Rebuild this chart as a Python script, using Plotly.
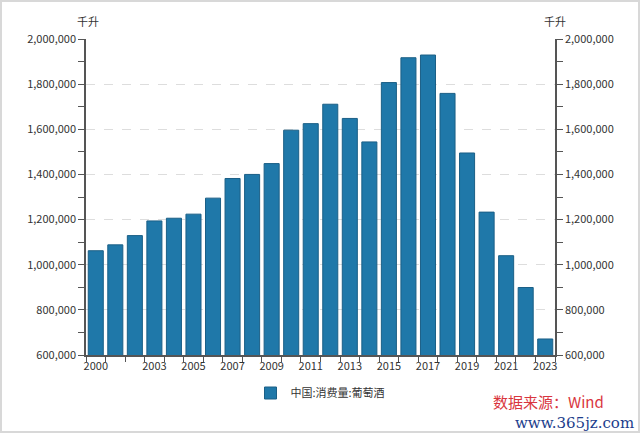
import plotly.graph_objects as go

years = list(range(2000, 2024))
values = [1062000, 1088000, 1129000, 1194000, 1206000, 1224000, 1295000, 1382000,
          1400000, 1448000, 1596000, 1625000, 1711000, 1648000, 1544000, 1807000,
          1917000, 1929000, 1759000, 1495000, 1233000, 1040000, 899000, 671000]
x_tick_labels = [2000, 2003, 2005, 2007, 2009, 2011, 2013, 2015, 2017, 2019, 2021, 2023]
series_name = "中国:消费量:葡萄酒"
unit = "千升"
y_min, y_max = 600000, 2000000

L, R, T, B = 86, 85, 39, 78
W, H = 640, 433
pw, ph = W - L - R, H - T - B
def px(x): return (x - L) / pw
def py(y): return (H - B - y) / ph

font_main = "Noto Sans CJK SC, Open Sans, sans-serif"
axis_col = "#555555"

fig = go.Figure()
fig.add_trace(go.Bar(
    x=years, y=values, name=series_name,
    marker=dict(color="#1f78a9", line=dict(color="#1b5f86", width=1)),
    width=0.77,
))
fig.add_trace(go.Scatter(
    x=years, y=values, yaxis="y2", mode="markers",
    marker=dict(opacity=0), showlegend=False, hoverinfo="skip",
))

yaxis_common = dict(
    range=[y_min, y_max], tickmode="linear", tick0=0, dtick=200000,
    tickformat=",d", ticks="outside", ticklen=6, tickwidth=1.2, tickcolor=axis_col,
    showline=True, linecolor=axis_col, linewidth=1.5,
    tickfont=dict(size=11, color="#333333", family=font_main),
    minor=dict(ticks="outside", dtick=100000, tick0=0, ticklen=6,
               tickwidth=1.2, tickcolor=axis_col, showgrid=False),
    zeroline=False,
)

fig.update_layout(
    width=W, height=H,
    margin=dict(l=L, r=R, t=T, b=B),
    plot_bgcolor="white", paper_bgcolor="white",
    font=dict(family=font_main, size=11, color="#333333"),
    xaxis=dict(
        range=[1999.5, 2023.5], tickmode="array", tickvals=x_tick_labels,
        ticktext=[str(v) for v in x_tick_labels], ticks="", showgrid=False,
        showline=True, linecolor=axis_col, linewidth=1.5,
        tickfont=dict(size=11, color="#333333", family=font_main),
        minor=dict(ticks="outside", tick0=1999.5, dtick=1, ticklen=5,
                   tickwidth=1.2, tickcolor=axis_col, showgrid=False),
        zeroline=False,
    ),
    yaxis=dict(**yaxis_common, showgrid=True, gridcolor="#dddddd", griddash="dash", gridwidth=1),
    yaxis2=dict(**yaxis_common, overlaying="y", side="right", showgrid=False),
    showlegend=True,
    legend=dict(orientation="h", x=0.5, xanchor="center", y=py(393), yanchor="middle",
                font=dict(size=11, color="#333333", family=font_main),
                itemwidth=30),
    bargap=0.23,
)

fig.add_annotation(text=unit, xref="paper", yref="paper", x=px(88), y=py(21),
                   xanchor="center", yanchor="middle", showarrow=False,
                   font=dict(size=11, color="#333333"))
fig.add_annotation(text=unit, xref="paper", yref="paper", x=px(555), y=py(21),
                   xanchor="center", yanchor="middle", showarrow=False,
                   font=dict(size=11, color="#333333"))
fig.add_annotation(text="数据来源：Wind", xref="paper", yref="paper", x=px(548), y=py(402),
                   xanchor="center", yanchor="middle", showarrow=False,
                   font=dict(size=15, color="#d9363e", family=font_main))
fig.add_annotation(text="www.365jz.com", xref="paper", yref="paper", x=px(574), y=py(423),
                   xanchor="center", yanchor="middle", showarrow=False,
                   font=dict(size=15, color="#1c3d8c", family="DejaVu Serif, serif"))

fig.add_shape(type="rect", xref="paper", yref="paper",
              x0=px(0), x1=px(640), y0=py(433), y1=py(0),
              line=dict(color="#d8d8d8", width=4), fillcolor="rgba(0,0,0,0)", layer="below")

fig.write_html("out.html", config={"displayModeBar": False},
               post_script="document.body.style.margin='0';document.body.style.overflow='hidden';")
